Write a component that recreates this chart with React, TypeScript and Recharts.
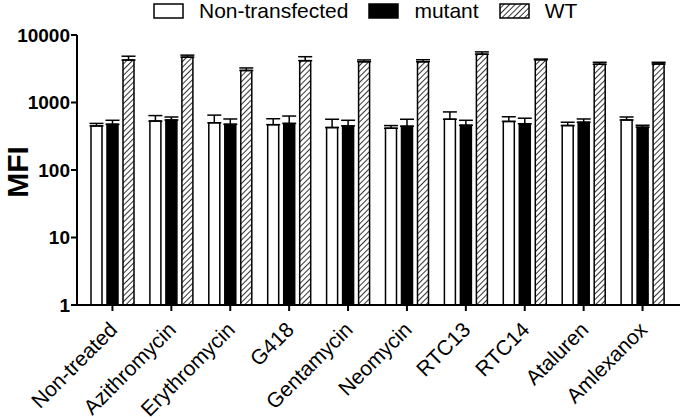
import React from "react";
import {
  BarChart,
  Bar,
  XAxis,
  YAxis,
  ErrorBar,
  Legend,
  Label,
} from "recharts";

const categories = [
  "Non-treated",
  "Azithromycin",
  "Erythromycin",
  "G418",
  "Gentamycin",
  "Neomycin",
  "RTC13",
  "RTC14",
  "Ataluren",
  "Amlexanox",
];

const nonTransfected = [450, 530, 500, 470, 425, 415, 565, 525, 455, 550];
const nonTransfectedErr = [40, 110, 150, 105, 140, 40, 160, 90, 55, 60];

const mutant = [475, 550, 475, 490, 450, 445, 460, 485, 510, 430];
const mutantErr = [70, 60, 95, 140, 95, 120, 85, 100, 60, 30];

const wt = [4250, 4700, 2980, 4170, 4020, 4020, 5200, 4300, 3680, 3720];
const wtErr = [600, 330, 270, 600, 250, 280, 420, 100, 260, 220];

const yTicks = [1, 10, 100, 1000, 10000];

const FONT = "'Liberation Sans', Arial, sans-serif";

const data = categories.map((name, i) => ({
  name,
  nt: nonTransfected[i],
  ntErr: [0, nonTransfectedErr[i]],
  mut: mutant[i],
  mutErr: [0, mutantErr[i]],
  wt: wt[i],
  wtErr: [0, wtErr[i]],
}));

const legendItems = [
  { label: "Non-transfected", fill: "#fff" },
  { label: "mutant", fill: "#000" },
  { label: "WT", fill: "url(#hatch)" },
];

function LegendContent() {
  return (
    <div
      style={{
        height: 30,
        display: "flex",
        alignItems: "flex-start",
        paddingLeft: 153,
        fontFamily: FONT,
        fontSize: 21,
        color: "#000",
      }}
    >
      {legendItems.map((item, i) => (
        <div
          key={item.label}
          style={{ display: "flex", alignItems: "center", marginRight: i === 2 ? 0 : 20, height: 22 }}
        >
          <svg width={31} height={16} style={{ marginRight: 15 }}>
            <rect x={1} y={1} width={29} height={14} fill={item.fill} stroke="#000" strokeWidth={1.5} />
          </svg>
          <span style={{ lineHeight: "22px" }}>{item.label}</span>
        </div>
      ))}
    </div>
  );
}

// rotated category labels, anchored at their end just right of the tick
function XTick({ x, y, payload }: any) {
  return (
    <g transform={`translate(${x + 6},${y + 20})`}>
      <text
        x={0}
        y={0}
        textAnchor="end"
        transform="rotate(-45)"
        fontFamily={FONT}
        fontSize={21}
        fill="#000"
      >
        {payload.value}
      </text>
    </g>
  );
}

export default function App() {
  return (
    <div style={{ position: "absolute", left: 0, top: 0, width: 683, height: 419, background: "#fff" }}>
      <BarChart
        width={683}
        height={419}
        data={data}
        margin={{ top: 5, right: 3, left: 0, bottom: 0 }}
        barSize={11}
        barGap={5}
      >
        <defs>
          <pattern id="hatch" patternUnits="userSpaceOnUse" width={4} height={4} patternTransform="rotate(45)">
            <rect x={0} y={0} width={4} height={4} fill="#fff" />
            <line x1={0} y1={0} x2={0} y2={4} stroke="#000" strokeWidth={1.6} />
          </pattern>
        </defs>
        <Legend verticalAlign="top" align="left" content={<LegendContent />} wrapperStyle={{ top: 0, left: 0, width: 683 }} />
        <XAxis
          dataKey="name"
          height={114}
          interval={0}
          padding={{ left: 6, right: 8 }}
          axisLine={{ stroke: "#000", strokeWidth: 2 }}
          tickLine={{ stroke: "#000", strokeWidth: 2 }}
          tickSize={6}
          tickMargin={0}
          tick={<XTick />}
        />
        <YAxis
          type="number"
          scale="log"
          domain={[1, 10000]}
          ticks={yTicks}
          allowDataOverflow
          width={77}
          axisLine={{ stroke: "#000", strokeWidth: 2 }}
          tickLine={{ stroke: "#000", strokeWidth: 2 }}
          tickSize={6}
          tickMargin={1}
          tick={{ fill: "#000", fontSize: 19, fontWeight: "bold", fontFamily: FONT }}
          interval={0}
        >
          <Label
            content={({ viewBox }: any) => {
              const cx = 17;
              const cy = viewBox.y + viewBox.height / 2 + 2;
              return (
                <text
                  x={cx}
                  y={cy}
                  transform={`rotate(-90, ${cx}, ${cy})`}
                  textAnchor="middle"
                  dominantBaseline="central"
                  fontFamily={FONT}
                  fontSize={30}
                  fontWeight="bold"
                  fill="#000"
                >
                  MFI
                </text>
              );
            }}
          />
        </YAxis>
        <Bar dataKey="nt" fill="#fff" stroke="#000" strokeWidth={1.5} isAnimationActive={false}>
          <ErrorBar dataKey="ntErr" direction="y" width={7} stroke="#000" strokeWidth={1.5} isAnimationActive={false} />
        </Bar>
        <Bar dataKey="mut" fill="#000" stroke="#000" strokeWidth={1.5} isAnimationActive={false}>
          <ErrorBar dataKey="mutErr" direction="y" width={7} stroke="#000" strokeWidth={1.5} isAnimationActive={false} />
        </Bar>
        <Bar dataKey="wt" fill="url(#hatch)" stroke="#000" strokeWidth={1.5} isAnimationActive={false}>
          <ErrorBar dataKey="wtErr" direction="y" width={7} stroke="#000" strokeWidth={1.5} isAnimationActive={false} />
        </Bar>
      </BarChart>
    </div>
  );
}
